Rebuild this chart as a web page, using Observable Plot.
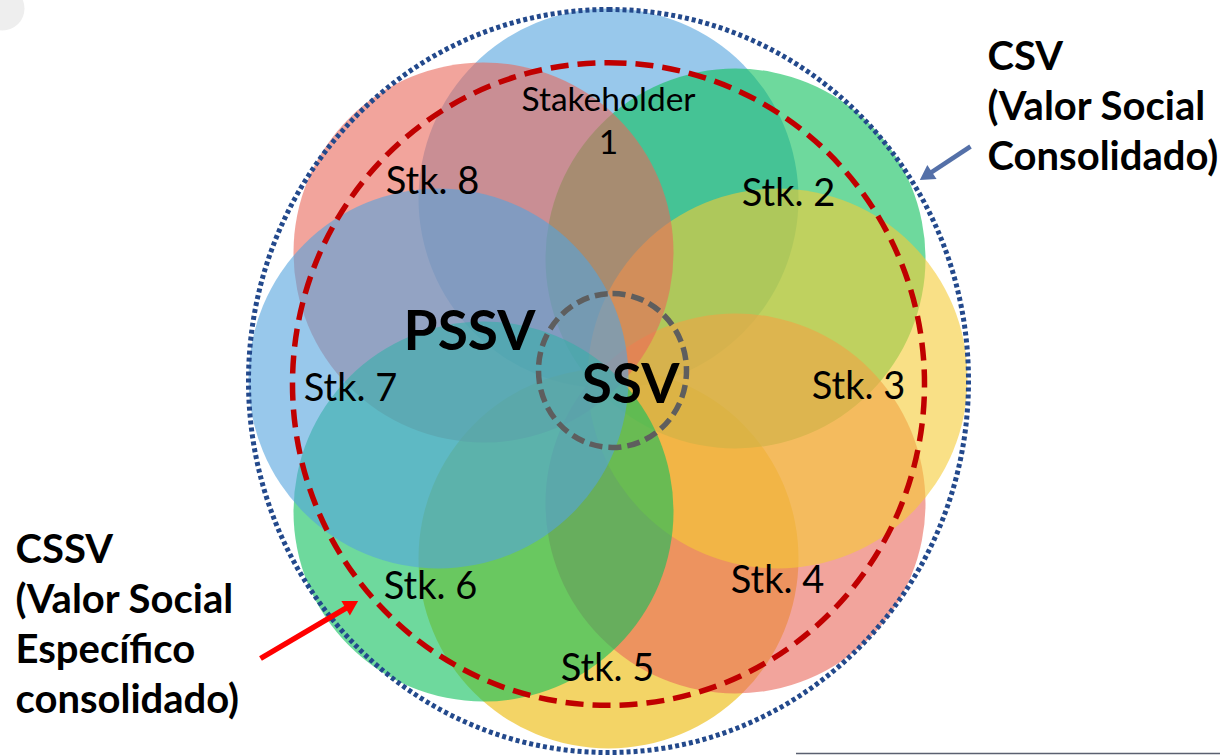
<!DOCTYPE html>
<html>
<head>
<meta charset="utf-8">
<script src="https://cdn.jsdelivr.net/npm/d3@7"></script>
<script src="https://cdn.jsdelivr.net/npm/@observablehq/plot@0.6"></script>
<style>
  html, body { margin: 0; padding: 0; background: #ffffff; }
  #chart { width: 1220px; height: 755px; overflow: hidden; }
</style>
</head>
<body>
<div id="chart"></div>
<script>
// ---- data (diagram coordinates) ----
const stakeholders = ["Stakeholder 1", "Stk. 2", "Stk. 3", "Stk. 4", "Stk. 5", "Stk. 6", "Stk. 7", "Stk. 8"];
const stakeholderLabels = ["Stakeholder\n1", "Stk. 2", "Stk. 3", "Stk. 4", "Stk. 5", "Stk. 6", "Stk. 7", "Stk. 8"];
const centerX = [608, 735, 777, 735, 608, 483, 438, 483];
const centerY = [198, 258, 378, 503, 558, 511, 378, 252];
const labelX = [608, 788, 858, 777, 607, 430, 350, 432];
const labelY = [118, 193, 386, 580, 668, 586, 388, 181];
const circleColors = ["#54A4DE", "#0DBF5C", "#F5CB35", "#E9675A", "#EBB800", "#0DBF5C", "#54A4DE", "#E9675A"];
const layerOrder = [1, 5, 2, 4, 3, 8, 6, 7];

const regionNames = ["CSV", "CSSV", "SSV"];
const regionX = [608, 608, 612];
const regionY = [380.5, 383.5, 370];

const coreLabels = ["PSSV", "SSV"];
const coreX = [469, 630];
const coreY = [332, 385];

const csvNote = "CSV\n(Valor Social\nConsolidado)";
const cssvNote = "CSSV\n(Valor Social\nEspecífico\nconsolidado)";
const noteX = [987, 15];
const noteY = [34, 527];

const arrowStart = [[970, 146], [260, 658]];
const arrowEnd = [[917, 181], [360, 599]];
const arrowColors = ["#5470A8", "#FF0000"];
const arrowWidths = [4.5, 5.5];

// ---- build tables ----
const circles = stakeholders.map((name, i) => ({
  name, label: stakeholderLabels[i], cx: centerX[i], cy: centerY[i],
  lx: labelX[i], ly: labelY[i], color: circleColors[i]
}));
const layered = layerOrder.map(n => circles[n - 1]);
const regions = regionNames.map((name, i) => ({ name, x: regionX[i], y: regionY[i] }));
const cores = coreLabels.map((t, i) => ({ t, x: coreX[i], y: coreY[i] }));
const notes = [csvNote, cssvNote].map((t, i) => ({ t, x: noteX[i], y: noteY[i] }));

// arrow geometry: shaft ends inside the filled head; head centroid set back from the tip
const headR = 8;
const tipToCentroid = 2 * Math.sqrt((headR * headR * Math.PI) / (3 * Math.sqrt(3)));
const arrows = arrowStart.map((s, i) => {
  const [x2, y2] = arrowEnd[i];
  const dx = x2 - s[0], dy = y2 - s[1], len = Math.hypot(dx, dy);
  const ux = dx / len, uy = dy / len;
  return {
    x1: s[0], y1: s[1],
    sx: x2 - ux * tipToCentroid, sy: y2 - uy * tipToCentroid,
    hx: x2 - ux * tipToCentroid, hy: y2 - uy * tipToCentroid,
    rot: Math.atan2(dx, -dy) * 180 / Math.PI,
    c: arrowColors[i], w: arrowWidths[i]
  };
});

function ellipseSymbol(aspect) {
  const k = 0.5522847498;
  return {
    draw(ctx, size) {
      const rx = Math.sqrt(size / Math.PI), ry = rx * aspect, ox = rx * k, oy = ry * k;
      ctx.moveTo(0, -ry);
      ctx.bezierCurveTo(ox, -ry, rx, -oy, rx, 0);
      ctx.bezierCurveTo(rx, oy, ox, ry, 0, ry);
      ctx.bezierCurveTo(-ox, ry, -rx, oy, -rx, 0);
      ctx.bezierCurveTo(-rx, -oy, -ox, -ry, 0, -ry);
      ctx.closePath();
    }
  };
}

const W = 1220, H = 755;
const font = "Lato, 'Open Sans', sans-serif";

const chart = Plot.plot({
  width: W,
  height: H,
  margin: 0,
  x: { domain: [0, W], range: [0, W], axis: null },
  y: { domain: [0, H], range: [0, H], axis: null },
  color: { type: "identity" },
  style: { fontFamily: font, background: "#ffffff", overflow: "visible" },
  marks: [
    // faint corner artefact
    Plot.dot([{ x: 2, y: 8 }], { x: "x", y: "y", r: 22, fill: "#e2e2e2", fillOpacity: 0.6 }),
    // stakeholder circles
    Plot.dot(layered, { x: "cx", y: "cy", r: 190, fill: "color", fillOpacity: 0.6, stroke: null }),
    // CSV dotted ellipse
    Plot.dot(regions.filter(d => d.name === "CSV"), {
      x: "x", y: "y", r: 360, symbol: ellipseSymbol(1.032), fill: "none",
      stroke: "#23498C", strokeWidth: 5, strokeDasharray: "4,3"
    }),
    // CSSV dashed ellipse
    Plot.dot(regions.filter(d => d.name === "CSSV"), {
      x: "x", y: "y", r: 316, symbol: ellipseSymbol(1.017), fill: "none",
      stroke: "#C00000", strokeWidth: 5.5, strokeDasharray: "18,9"
    }),
    // SSV dashed circle
    Plot.dot(regions.filter(d => d.name === "SSV"), {
      x: "x", y: "y", r: 74, symbol: ellipseSymbol(1.04), fill: "none",
      stroke: "#5E5E5E", strokeWidth: 5.5, strokeDasharray: "13,6"
    }),
    // stakeholder labels
    Plot.text(circles.slice(0, 1), { x: "lx", y: "ly", text: "label", fontSize: 33.5, lineHeight: 1.3, fill: "#000" }),
    Plot.text(circles.slice(1), { x: "lx", y: "ly", text: "label", fontSize: 38, fill: "#000" }),
    // core labels
    Plot.text(cores, { x: "x", y: "y", text: "t", fontSize: 55, fontWeight: "bold", fill: "#000" }),
    // side notes
    Plot.text(notes, { x: "x", y: "y", text: "t", fontSize: 40, fontWeight: "bold", lineHeight: 1.25, textAnchor: "start", lineAnchor: "top", fill: "#000" }),
    // arrows: shaft + filled head
    Plot.link(arrows, { x1: "x1", y1: "y1", x2: "sx", y2: "sy", stroke: "c", strokeWidth: "w" }),
    Plot.dot(arrows, { x: "hx", y: "hy", r: headR, symbol: "triangle2", rotate: "rot", fill: "c", stroke: null }),
    // bottom right rule
    Plot.ruleY([753], { x1: 796, x2: W, stroke: "#5A6070", strokeWidth: 1.5 })
  ]
});
document.getElementById("chart").appendChild(chart);
</script>
</body>
</html>
